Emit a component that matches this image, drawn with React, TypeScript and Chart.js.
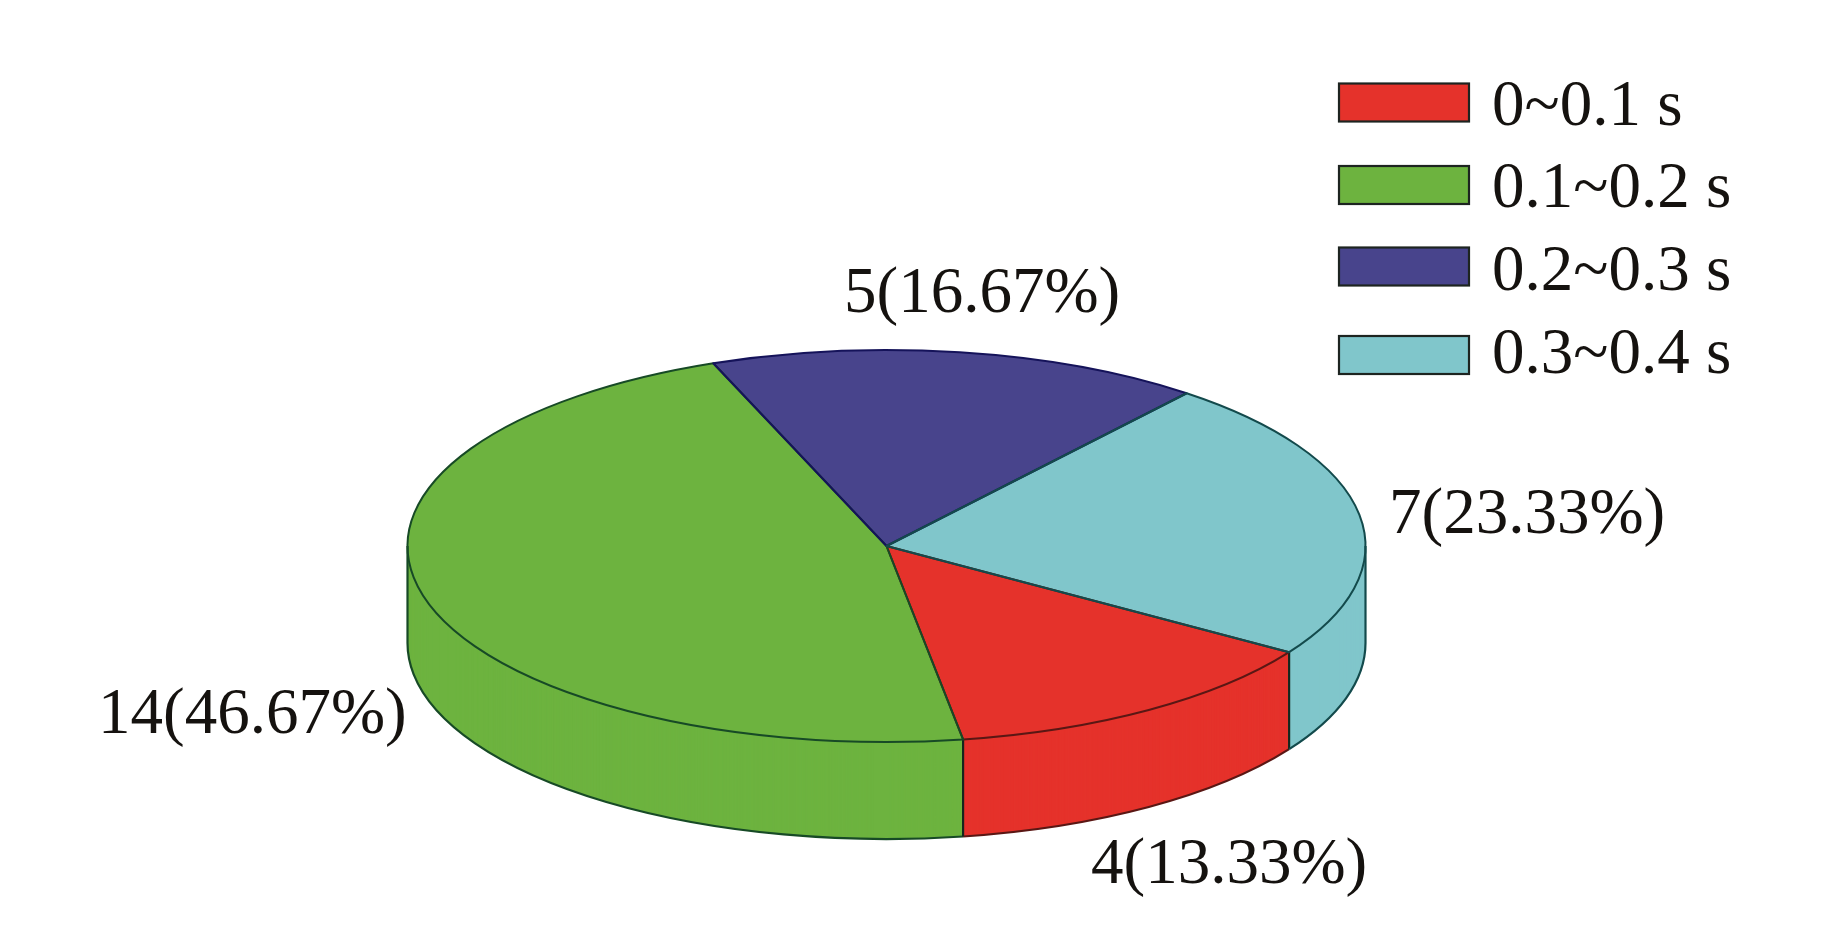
import React, { useEffect, useRef } from "react";
import { Chart, registerables } from "chart.js";

Chart.register(...registerables);

const categories = ["0~0.1 s", "0.1~0.2 s", "0.2~0.3 s", "0.3~0.4 s"];
const counts = [4, 14, 5, 7];
const fills = ["#E5322B", "#6DB33F", "#48448C", "#80C6CB"];
const edges = ["#5A1714", "#174A26", "#15135A", "#134A4C"];
const labelAnchors = [
  [1091, 883],
  [98, 733],
  [844, 312],
  [1389, 533],
];
const legendTops = [83.5, 166, 247.5, 336];
const legendBaselines = [125, 207, 290, 373];

const FONT = '"Liberation Serif", "Times New Roman", serif';
const CX = 886.5;
const CY = 546;
const RX = 479;
const RY = 196;
const DEPTH = 97;
const K = RY / RX;

const ring = (a: number) => {
  const t = Math.PI * 2;
  return ((a % t) + t) % t;
};

const pie3d = {
  id: "pie3d",
  beforeDatasetsDraw(chart: any) {
    const ctx = chart.ctx;
    const arcs = chart.getDatasetMeta(0).data;
    const place = (dy: number) => {
      ctx.translate(CX, CY + dy);
      ctx.scale(1, K);
      ctx.translate(-arcs[0].x, -arcs[0].y);
    };
    for (let dy = DEPTH; dy >= 1; dy--) {
      ctx.save();
      place(dy);
      arcs.forEach((a: any) => a.draw(ctx));
      ctx.restore();
    }
    ctx.save();
    place(0);
  },
  afterDatasetsDraw(chart: any) {
    const ctx = chart.ctx;
    ctx.restore();
    const arcs = chart.getDatasetMeta(0).data;
    ctx.save();
    ctx.lineJoin = "round";

    // wall outlines
    ctx.lineWidth = 2.2;
    arcs.forEach((a: any, i: number) => {
      const s = ring(a.startAngle);
      const span = a.endAngle - a.startAngle;
      ctx.strokeStyle = edges[i];
      for (const base of [s - Math.PI * 2, s]) {
        const from = Math.max(base, 0);
        const to = Math.min(base + span, Math.PI);
        if (to > from) {
          ctx.beginPath();
          ctx.ellipse(CX, CY + DEPTH, RX, RY, 0, from, to);
          ctx.stroke();
        }
      }
      if (s > 0 && s < Math.PI) {
        const x = CX + RX * Math.cos(s);
        const y = CY + RY * Math.sin(s);
        ctx.strokeStyle = "#14261c";
        ctx.beginPath();
        ctx.moveTo(x, y);
        ctx.lineTo(x, y + DEPTH);
        ctx.stroke();
      }
    });
    ctx.strokeStyle = edges[1];
    ctx.beginPath();
    ctx.moveTo(CX - RX, CY);
    ctx.lineTo(CX - RX, CY + DEPTH);
    ctx.stroke();
    ctx.strokeStyle = edges[3];
    ctx.beginPath();
    ctx.moveTo(CX + RX, CY);
    ctx.lineTo(CX + RX, CY + DEPTH);
    ctx.stroke();

    // top face outlines
    arcs.forEach((a: any, i: number) => {
      ctx.strokeStyle = edges[i];
      ctx.lineWidth = 2;
      ctx.beginPath();
      ctx.moveTo(CX, CY);
      ctx.ellipse(CX, CY, RX, RY, 0, a.startAngle, a.endAngle);
      ctx.closePath();
      ctx.stroke();
    });
    ctx.restore();
  },
  afterDraw(chart: any) {
    const ctx = chart.ctx;
    const values: number[] = chart.data.datasets[0].data;
    const total = values.reduce((p, c) => p + c, 0);
    ctx.save();
    ctx.fillStyle = "#15120f";
    ctx.textBaseline = "alphabetic";
    ctx.textAlign = "left";

    ctx.font = `65px ${FONT}`;
    values.forEach((v, i) => {
      const [x, y] = labelAnchors[i];
      ctx.fillText(`${v}(${((v / total) * 100).toFixed(2)}%)`, x, y);
    });

    const colors: string[] = chart.data.datasets[0].backgroundColor;
    (chart.data.labels as string[]).forEach((label, i) => {
      const top = legendTops[i];
      ctx.fillStyle = colors[i];
      ctx.strokeStyle = "#1d2420";
      ctx.lineWidth = 2.2;
      ctx.fillRect(1339, top, 130, 38);
      ctx.strokeRect(1339, top, 130, 38);
      ctx.fillStyle = "#15120f";
      ctx.fillText(label, 1492, legendBaselines[i]);
    });
    ctx.restore();
  },
};

export default function App() {
  const ref = useRef<HTMLCanvasElement>(null);
  useEffect(() => {
    const chart = new Chart(ref.current as HTMLCanvasElement, {
      type: "pie",
      data: {
        labels: categories,
        datasets: [
          {
            data: counts,
            backgroundColor: fills,
            borderWidth: 0,
            clip: false,
          } as any,
        ],
      },
      options: {
        animation: false,
        responsive: false,
        rotation: 122.8,
        radius: RX,
        events: [],
        plugins: { legend: { display: false }, tooltip: { enabled: false } },
      } as any,
      plugins: [pie3d],
    });
    return () => chart.destroy();
  }, []);
  return (
    <div style={{ position: "fixed", left: 0, top: 0, width: 1843, height: 945, background: "#fff" }}>
      <canvas ref={ref} width={1843} height={945} style={{ display: "block" }} />
    </div>
  );
}
